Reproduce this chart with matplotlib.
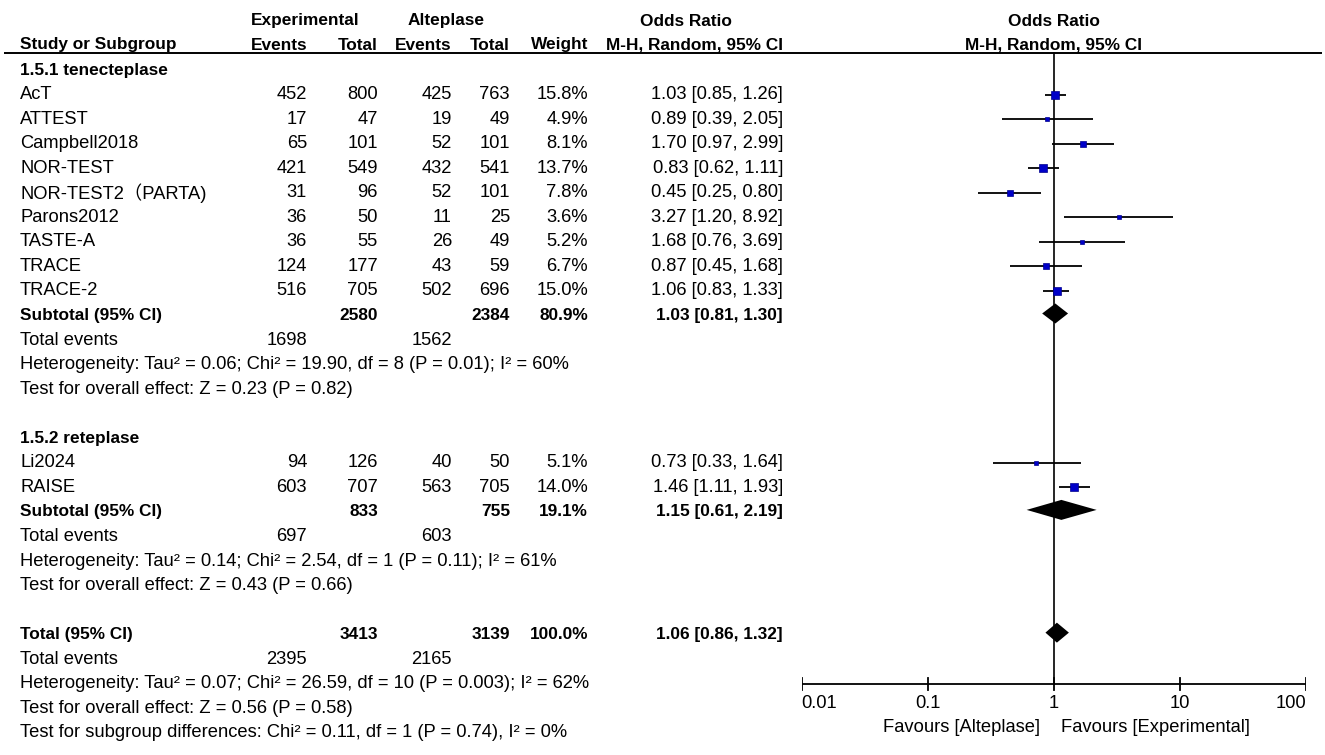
import matplotlib
matplotlib.use("Agg")
import matplotlib.pyplot as plt
from matplotlib.transforms import offset_copy

plt.rcParams['font.family'] = ['Liberation Sans', 'Noto Sans CJK SC', 'DejaVu Sans']

# ---------------- data ----------------
studies1 = ["AcT", "ATTEST", "Campbell2018", "NOR-TEST", "NOR-TEST2（PARTA)",
            "Parons2012", "TASTE-A", "TRACE", "TRACE-2"]
exp_events1 = [452, 17, 65, 421, 31, 36, 36, 124, 516]
exp_total1 = [800, 47, 101, 549, 96, 50, 55, 177, 705]
alt_events1 = [425, 19, 52, 432, 52, 11, 26, 43, 502]
alt_total1 = [763, 49, 101, 541, 101, 25, 49, 59, 696]
weights1 = [15.8, 4.9, 8.1, 13.7, 7.8, 3.6, 5.2, 6.7, 15.0]
or1 = [1.03, 0.89, 1.70, 0.83, 0.45, 3.27, 1.68, 0.87, 1.06]
lo1 = [0.85, 0.39, 0.97, 0.62, 0.25, 1.20, 0.76, 0.45, 0.83]
hi1 = [1.26, 2.05, 2.99, 1.11, 0.80, 8.92, 3.69, 1.68, 1.33]

studies2 = ["Li2024", "RAISE"]
exp_events2 = [94, 603]
exp_total2 = [126, 707]
alt_events2 = [40, 563]
alt_total2 = [50, 705]
weights2 = [5.1, 14.0]
or2 = [0.73, 1.46]
lo2 = [0.33, 1.11]
hi2 = [1.64, 1.93]

# subtotal: exp total, alt total, weight, OR, lo, hi, exp events, alt events
sub1 = [2580, 2384, 80.9, 1.03, 0.81, 1.30, 1698, 1562]
sub2 = [833, 755, 19.1, 1.15, 0.61, 2.19, 697, 603]
overall = [3413, 3139, 100.0, 1.06, 0.86, 1.32, 2395, 2165]

group_names = ["1.5.1 tenecteplase", "1.5.2 reteplase"]
het1 = "Heterogeneity: Tau² = 0.06; Chi² = 19.90, df = 8 (P = 0.01); I² = 60%"
test1 = "Test for overall effect: Z = 0.23 (P = 0.82)"
het2 = "Heterogeneity: Tau² = 0.14; Chi² = 2.54, df = 1 (P = 0.11); I² = 61%"
test2 = "Test for overall effect: Z = 0.43 (P = 0.66)"
het_all = "Heterogeneity: Tau² = 0.07; Chi² = 26.59, df = 10 (P = 0.003); I² = 62%"
test_all = "Test for overall effect: Z = 0.56 (P = 0.58)"
test_sub = "Test for subgroup differences: Chi² = 0.11, df = 1 (P = 0.74), I² = 0%"

axis_ticks = [0.01, 0.1, 1, 10, 100]
axis_ticklabels = ["0.01", "0.1", "1", "10", "100"]
favours_left = "Favours [Alteplase]"
favours_right = "Favours [Experimental]"

# ---------------- layout ----------------
W, H = 1325, 755
FS_B = 12.4
FS_R = 13.2
fig = plt.figure(figsize=(W / 100, H / 100), dpi=100)
fig.patch.set_facecolor("white")
ax = fig.add_axes([0, 0, 1, 1])
ax.set_xlim(0, W)
ax.set_ylim(H, 0)
ax.axis("off")

x0_pix, x1_pix = 801.6, 1305.8
fx = fig.add_axes([x0_pix / W, 0, (x1_pix - x0_pix) / W, 1])
fx.set_xscale("log")
fx.set_xlim(0.01, 100)
fx.set_ylim(H, 0)
fx.axis("off")
fx.patch.set_alpha(0)

def ry(i):
    return 70 + 24.55 * i

X_NAME = 20
X_EE, X_ET, X_AE, X_AT, X_W, X_OR = 307, 378, 452, 510, 588, 783

def txt(x, y, s, ha="left", bold=False, **kw):
    ax.text(x, y, s, ha=ha, va="center", fontsize=FS_B if bold else FS_R,
            fontweight="bold" if bold else "normal", color="black", **kw)

# headers
txt(305, 21, "Experimental", ha="center", bold=True)
txt(446, 21, "Alteplase", ha="center", bold=True)
txt(686, 21, "Odds Ratio", ha="center", bold=True)
txt(X_NAME, 45, "Study or Subgroup", bold=True)
txt(X_EE, 45, "Events", ha="right", bold=True)
txt(X_ET, 45, "Total", ha="right", bold=True)
txt(X_AE, 45, "Events", ha="right", bold=True)
txt(X_AT, 45, "Total", ha="right", bold=True)
txt(X_W, 45, "Weight", ha="right", bold=True)
txt(X_OR, 45, "M-H, Random, 95% CI", ha="right", bold=True)
fx.text(1, 21, "Odds Ratio", ha="center", va="center", fontsize=FS_B, fontweight="bold")
fx.text(1, 45, "M-H, Random, 95% CI", ha="center", va="center", fontsize=FS_B, fontweight="bold")
ax.plot([4, 1322], [52.5, 52.5], color="black", lw=1.4, solid_capstyle="butt")

BLUE = "#0000C8"

def study_rows(start, names, ee, et, ae, at, w, orv, lo, hi):
    for k in range(len(names)):
        y = ry(start + k)
        txt(X_NAME, y, names[k])
        txt(X_EE, y, str(ee[k]), ha="right")
        txt(X_ET, y, str(et[k]), ha="right")
        txt(X_AE, y, str(ae[k]), ha="right")
        txt(X_AT, y, str(at[k]), ha="right")
        txt(X_W, y, f"{w[k]:.1f}%", ha="right")
        txt(X_OR, y, f"{orv[k]:.2f} [{lo[k]:.2f}, {hi[k]:.2f}]", ha="right")
        fx.plot([lo[k], hi[k]], [y, y], color="black", lw=1.3, zorder=3,
                solid_capstyle="butt")
        side_px = 7.8 * (w[k] / 15.8) ** 0.5
        fx.plot([orv[k]], [y], marker="s", ms=side_px * 0.72, color=BLUE,
                mec="#00008C", mew=0.5, zorder=4, linestyle="none")

def summary_rows(row, label, s, het, test):
    y = ry(row)
    txt(X_NAME, y, label, bold=True)
    txt(X_ET, y, str(s[0]), ha="right", bold=True)
    txt(X_AT, y, str(s[1]), ha="right", bold=True)
    txt(X_W, y, f"{s[2]:.1f}%", ha="right", bold=True)
    txt(X_OR, y, f"{s[3]:.2f} [{s[4]:.2f}, {s[5]:.2f}]", ha="right", bold=True)
    fx.fill([s[4], s[3], s[5], s[3]], [y - 2, y - 12, y - 2, y + 8],
            color="black", zorder=4, lw=0)
    txt(X_NAME, ry(row + 1), "Total events")
    txt(X_EE, ry(row + 1), str(s[6]), ha="right")
    txt(X_AE, ry(row + 1), str(s[7]), ha="right")
    txt(X_NAME, ry(row + 2), het)
    txt(X_NAME, ry(row + 3), test)

txt(X_NAME, ry(0), group_names[0], bold=True)
study_rows(1, studies1, exp_events1, exp_total1, alt_events1, alt_total1,
           weights1, or1, lo1, hi1)
summary_rows(10, "Subtotal (95% CI)", sub1, het1, test1)

txt(X_NAME, ry(15), group_names[1], bold=True)
study_rows(16, studies2, exp_events2, exp_total2, alt_events2, alt_total2,
           weights2, or2, lo2, hi2)
summary_rows(18, "Subtotal (95% CI)", sub2, het2, test2)

summary_rows(23, "Total (95% CI)", overall, het_all, test_all)
txt(X_NAME, ry(27), test_sub)

# forest axis
AX_Y = 684
fx.plot([1, 1], [52.5, AX_Y], color="black", lw=1.2, zorder=2)
fx.plot([axis_ticks[0], axis_ticks[-1]], [AX_Y, AX_Y], color="black", lw=1.3,
        solid_capstyle="butt")
for t, lab in zip(axis_ticks, axis_ticklabels):
    fx.plot([t, t], [AX_Y - 6, AX_Y + 6], color="black", lw=1.3)
    ha = "center"
    if t == axis_ticks[0]:
        ha = "left"
    elif t == axis_ticks[-1]:
        ha = "right"
    fx.text(t, 703, lab, ha=ha, va="center", fontsize=FS_R, color="black")

tl = offset_copy(fx.transData, fig=fig, x=-14, y=0, units="dots")
tr = offset_copy(fx.transData, fig=fig, x=7, y=0, units="dots")
fx.text(1, 727, favours_left, ha="right", va="center", fontsize=FS_R, transform=tl)
fx.text(1, 727, favours_right, ha="left", va="center", fontsize=FS_R, transform=tr)

fig.savefig("out.png", dpi=100, facecolor="white")
